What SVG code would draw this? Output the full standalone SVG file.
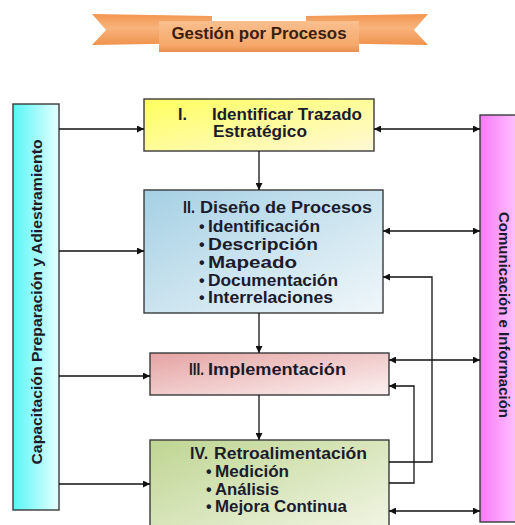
<svg xmlns="http://www.w3.org/2000/svg" width="515" height="525" viewBox="0 0 515 525">
<defs>
<linearGradient id="gBack" x1="0" y1="0" x2="0" y2="1"><stop offset="0" stop-color="#f39550"/><stop offset="0.45" stop-color="#f8b47c"/><stop offset="1" stop-color="#f0924e"/></linearGradient>
<linearGradient id="gBody" x1="0" y1="0" x2="0" y2="1"><stop offset="0" stop-color="#f9bf8e"/><stop offset="0.8" stop-color="#f6a86a"/><stop offset="1" stop-color="#e98e4c"/></linearGradient>
<linearGradient id="gI" x1="0" y1="0" x2="1" y2="1"><stop offset="0" stop-color="#ffff5e"/><stop offset="1" stop-color="#fff8d6"/></linearGradient>
<linearGradient id="gII" x1="0" y1="0" x2="1" y2="1"><stop offset="0" stop-color="#a5d0e4"/><stop offset="1" stop-color="#f0f7fa"/></linearGradient>
<linearGradient id="gIII" x1="0" y1="0" x2="1" y2="1"><stop offset="0" stop-color="#e5a3a3"/><stop offset="1" stop-color="#fcf1f1"/></linearGradient>
<linearGradient id="gIV" x1="0" y1="0" x2="1" y2="1"><stop offset="0" stop-color="#bfd592"/><stop offset="1" stop-color="#f2f6e6"/></linearGradient>
<linearGradient id="gL" x1="0" y1="0" x2="1" y2="0"><stop offset="0" stop-color="#58f6f6"/><stop offset="1" stop-color="#e6ffff"/></linearGradient>
<linearGradient id="gR" x1="0" y1="0" x2="1" y2="0"><stop offset="0" stop-color="#f97af9"/><stop offset="1" stop-color="#ffdcff"/></linearGradient>
<marker id="ah" viewBox="0 0 10 10" refX="10" refY="5" markerWidth="8" markerHeight="7" markerUnits="userSpaceOnUse" orient="auto-start-reverse"><path d="M0,0 L10,5 L0,10 z" fill="#111"/></marker>
<style>
.box{stroke:#3a3a3a;stroke-width:1.4}
.t{font-family:"Liberation Sans",Arial,sans-serif;font-weight:bold;font-size:16px;fill:#1b1b2b}
.c{fill:none;stroke:#111;stroke-width:1.3}
</style>
</defs>

<g id="banner">
<polygon points="92,14 212,16 212,43 92,45 106,30" fill="url(#gBack)"/>
<polygon points="306,16 428,14 414,30 428,45 306,43" fill="url(#gBack)"/>
<rect x="159" y="21" width="200" height="31" fill="url(#gBody)"/>
<text class="t" x="259" y="38.5" text-anchor="middle" textLength="175" lengthAdjust="spacingAndGlyphs" style="fill:#3d1d0d;font-size:16px">Gestión por Procesos</text>
</g>

<g id="capacitacion">
<rect class="box" x="13" y="104" width="46" height="406" fill="url(#gL)"/>
<text class="t" transform="translate(41.5,302) rotate(-90)" text-anchor="middle" textLength="325" lengthAdjust="spacingAndGlyphs" style="font-size:15px">Capacitación Preparación y Adiestramiento</text>
</g>

<g id="comunicacion">
<rect class="box" x="480" y="115" width="50" height="407" fill="url(#gR)"/>
<text class="t" transform="translate(498.5,315) rotate(90)" text-anchor="middle" textLength="206" lengthAdjust="spacingAndGlyphs" style="font-size:15px">Comunicación e Información</text>
</g>

<g id="box1">
<rect class="box" x="144" y="99" width="230" height="52" fill="url(#gI)"/>
<text class="t" x="178" y="120">I.</text>
<text class="t" x="212" y="120" textLength="150" lengthAdjust="spacingAndGlyphs">Identificar Trazado</text>
<text class="t" x="213" y="137" textLength="94" lengthAdjust="spacingAndGlyphs">Estratégico</text>
</g>

<g id="box2">
<rect class="box" x="144" y="190" width="239" height="123" fill="url(#gII)"/>
<text class="t" x="183" y="213" textLength="12" lengthAdjust="spacingAndGlyphs">II.</text>
<text class="t" x="200" y="213" textLength="172" lengthAdjust="spacingAndGlyphs">Diseño de Procesos</text>
<text class="t" x="199" y="232">•</text><text class="t" x="208" y="232" textLength="112" lengthAdjust="spacingAndGlyphs">Identificación</text>
<text class="t" x="199" y="250">•</text><text class="t" x="208" y="250" textLength="110" lengthAdjust="spacingAndGlyphs">Descripción</text>
<text class="t" x="199" y="268">•</text><text class="t" x="208" y="268" textLength="89" lengthAdjust="spacingAndGlyphs">Mapeado</text>
<text class="t" x="199" y="286">•</text><text class="t" x="208" y="286" textLength="130" lengthAdjust="spacingAndGlyphs">Documentación</text>
<text class="t" x="199" y="303">•</text><text class="t" x="208" y="303" textLength="125" lengthAdjust="spacingAndGlyphs">Interrelaciones</text>
</g>

<g id="box3">
<rect class="box" x="150" y="353" width="239" height="42" fill="url(#gIII)"/>
<text class="t" x="189" y="375" textLength="15" lengthAdjust="spacingAndGlyphs">III.</text>
<text class="t" x="208" y="375" textLength="138" lengthAdjust="spacingAndGlyphs">Implementación</text>
</g>

<g id="box4">
<rect class="box" x="150" y="440" width="239" height="95" fill="url(#gIV)"/>
<text class="t" x="190" y="459">IV.</text>
<text class="t" x="214" y="459" textLength="153" lengthAdjust="spacingAndGlyphs">Retroalimentación</text>
<text class="t" x="206" y="477">•</text><text class="t" x="215" y="477" textLength="74" lengthAdjust="spacingAndGlyphs">Medición</text>
<text class="t" x="206" y="495">•</text><text class="t" x="215" y="495" textLength="64" lengthAdjust="spacingAndGlyphs">Análisis</text>
<text class="t" x="206" y="512">•</text><text class="t" x="215" y="512" textLength="132" lengthAdjust="spacingAndGlyphs">Mejora Continua</text>
</g>

<g id="connectors">
<line class="c" x1="59" y1="129" x2="144" y2="129" marker-end="url(#ah)"/>
<line class="c" x1="59" y1="251" x2="144" y2="251" marker-end="url(#ah)"/>
<line class="c" x1="59" y1="376" x2="150" y2="376" marker-end="url(#ah)"/>
<line class="c" x1="59" y1="484" x2="150" y2="484" marker-end="url(#ah)"/>
<line class="c" x1="259" y1="151" x2="259" y2="190" marker-end="url(#ah)"/>
<line class="c" x1="259" y1="313" x2="259" y2="353" marker-end="url(#ah)"/>
<line class="c" x1="259" y1="395" x2="259" y2="440" marker-end="url(#ah)"/>
<line class="c" x1="374" y1="129" x2="480" y2="129" marker-start="url(#ah)" marker-end="url(#ah)"/>
<line class="c" x1="383" y1="231" x2="480" y2="231" marker-start="url(#ah)" marker-end="url(#ah)"/>
<line class="c" x1="389" y1="360" x2="480" y2="360" marker-start="url(#ah)" marker-end="url(#ah)"/>
<line class="c" x1="389" y1="511" x2="480" y2="511" marker-start="url(#ah)" marker-end="url(#ah)"/>
<polyline class="c" points="389,462 432,462 432,277 383,277" marker-end="url(#ah)"/>
<polyline class="c" points="389,483 414,483 414,386 389,386" marker-end="url(#ah)"/>
</g>
</svg>
